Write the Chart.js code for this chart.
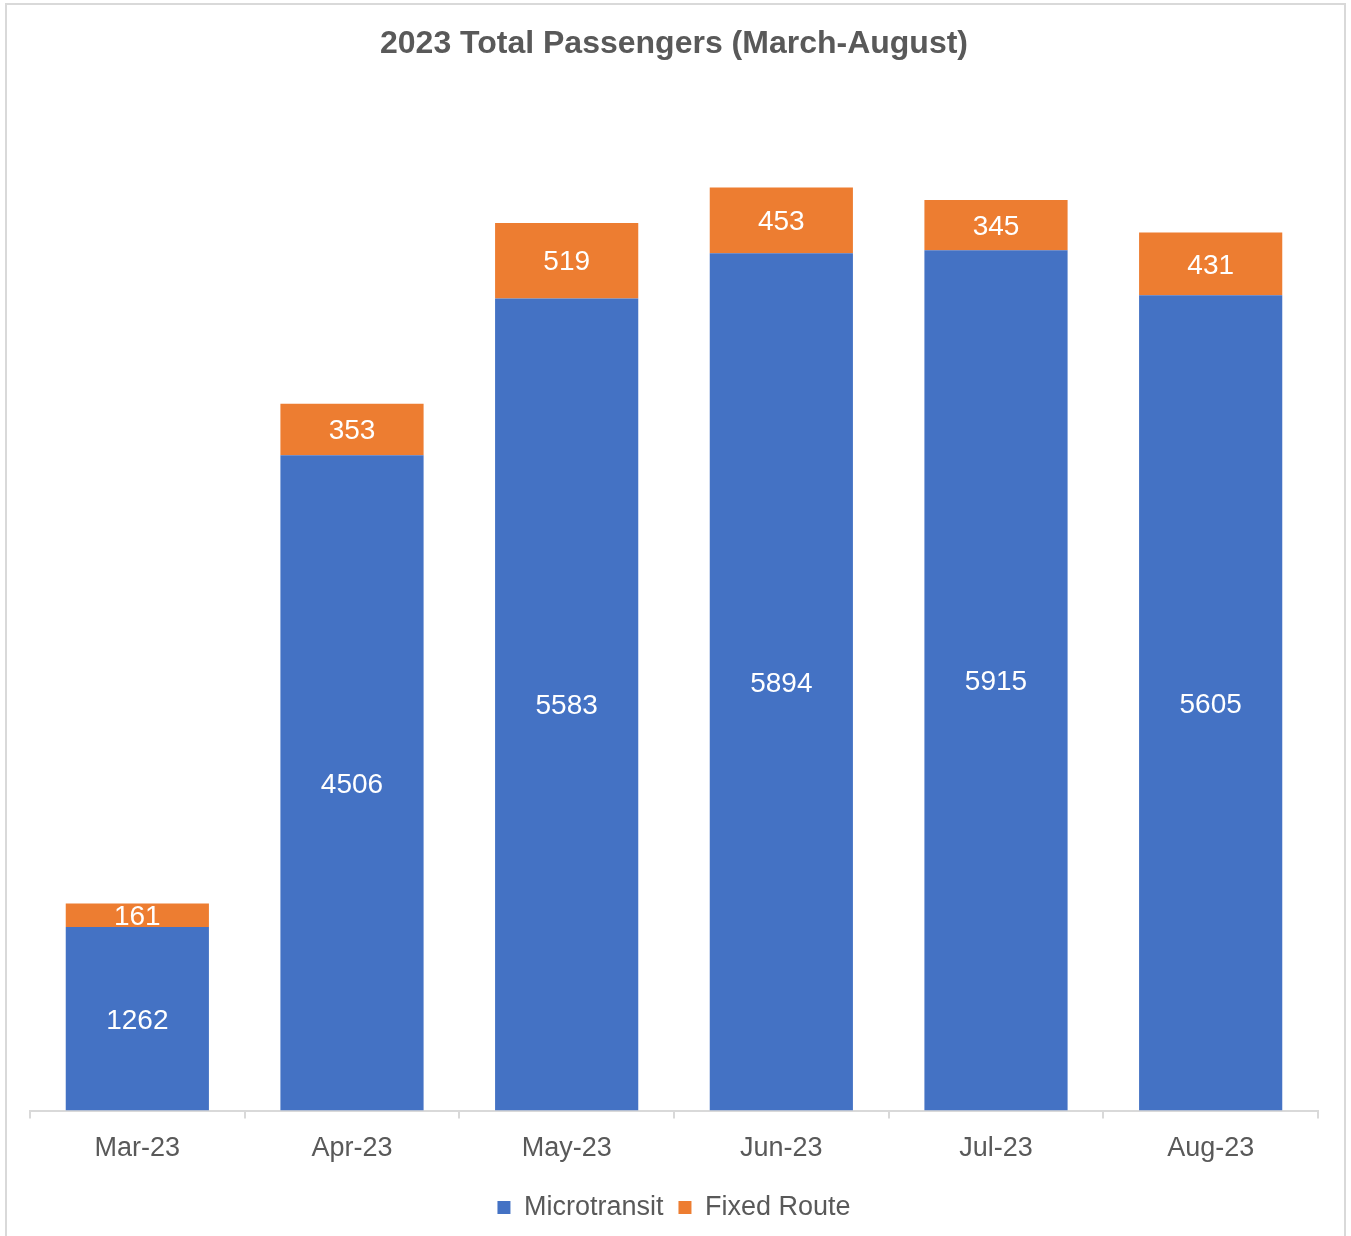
<!DOCTYPE html>
<html>
<head>
<meta charset="utf-8">
<script src="https://cdn.jsdelivr.net/npm/chart.js@4.4.0/dist/chart.umd.min.js"></script>
<style>
  body { margin: 0; background: #fff; }
  #marco { position: absolute; left: 5px; top: 3px; width: 1337px; height: 1240px; border: 2px solid #d9d9d9; }
  #grafico-wrap { position: absolute; left: 0; top: 0; width: 1351px; height: 1236px; }
</style>
</head>
<body>
<div id="marco"></div>
<div id="grafico-wrap"><canvas id="grafico-passageiros"></canvas></div>
<script>
const meses = ["Mar-23", "Apr-23", "May-23", "Jun-23", "Jul-23", "Aug-23"]
const microtransit = [1262, 4506, 5583, 5894, 5915, 5605]
const fixedRoute = [161, 353, 519, 453, 345, 431]

const corTexto = '#595959'
const fonte = "'Liberation Sans', Arial, sans-serif"

// escreve o valor no meio de cada pedaço da barra
const rotulosBarras = {
  id: 'rotulosBarras',
  afterDatasetsDraw(chart) {
    const ctx = chart.ctx
    ctx.save()
    ctx.fillStyle = '#fff'
    ctx.font = '28px ' + fonte
    ctx.textAlign = 'center'
    ctx.textBaseline = 'middle'
    chart.data.datasets.forEach((ds, i) => {
      chart.getDatasetMeta(i).data.forEach((barra, j) => {
        ctx.fillText(ds.data[j], barra.x, (barra.y + barra.base) / 2 + 2)
      })
    })
    ctx.restore()
  }
}

let graficoPassageiros = document.querySelector("#grafico-passageiros").getContext("2d")
new Chart(graficoPassageiros, {
  type: 'bar',
  data: {
    labels: meses,
    datasets: [{
      label: 'Microtransit',
      data: microtransit,
      backgroundColor: '#4472c4'
    }, {
      label: 'Fixed Route',
      data: fixedRoute,
      backgroundColor: '#ed7d31'
    }]
  },
  options: {
    responsive: true,
    maintainAspectRatio: false,
    animation: false,
    layout: { padding: { left: 30, right: 33, top: 0, bottom: 5 } },
    datasets: { bar: { barPercentage: 1, categoryPercentage: 0.667 } },
    scales: {
      x: {
        stacked: true,
        grid: { display: true, drawOnChartArea: false, tickLength: 8, color: '#d9d9d9', lineWidth: 2 },
        border: { display: true, color: '#d9d9d9', width: 2 },
        ticks: { color: corTexto, font: { size: 27, family: fonte }, padding: 14 }
      },
      y: {
        stacked: true,
        display: false,
        min: 0,
        max: 7000
      }
    },
    plugins: {
      title: {
        display: true,
        text: '2023 Total Passengers (March-August)',
        color: corTexto,
        font: { size: 32, weight: 'bold', family: fonte },
        padding: { top: 25, bottom: 29 }
      },
      legend: {
        position: 'bottom',
        labels: {
          color: corTexto,
          font: { size: 27, family: fonte },
          boxWidth: 13,
          boxHeight: 13,
          padding: 15
        }
      },
      tooltip: { enabled: false }
    }
  },
  plugins: [rotulosBarras]
})
</script>
</body>
</html>
